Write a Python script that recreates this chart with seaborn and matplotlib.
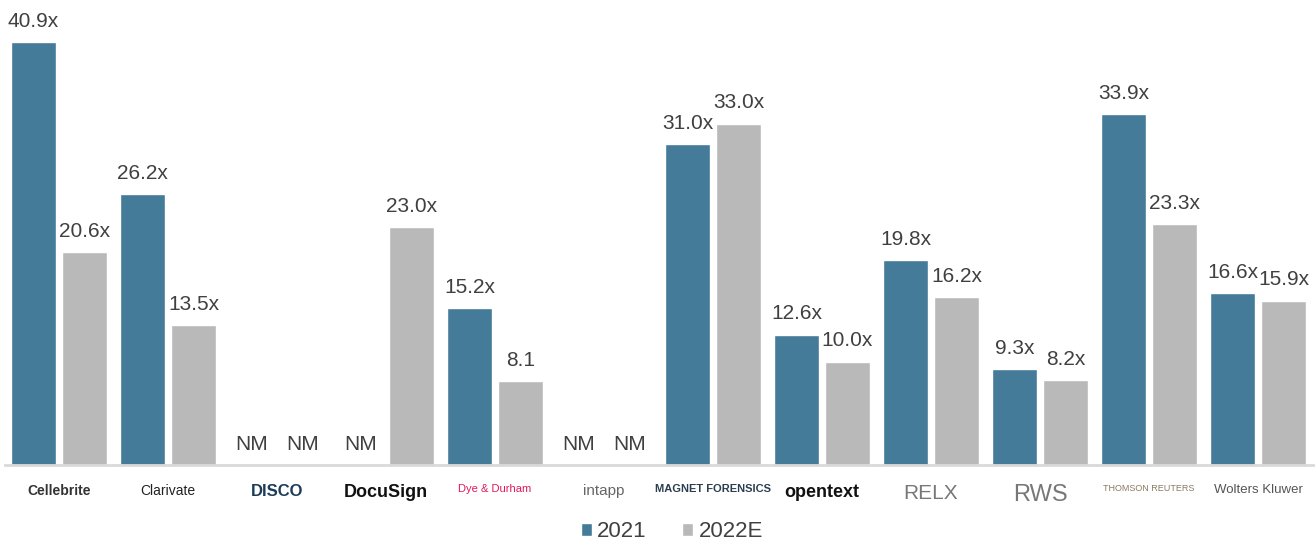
import numpy as np
import pandas as pd
import matplotlib
matplotlib.use("Agg")
import matplotlib.pyplot as plt
import seaborn as sns

companies = ["Cellebrite", "Clarivate", "DISCO", "DocuSign", "Dye & Durham", "intapp",
             "MAGNET FORENSICS", "opentext", "RELX", "RWS", "THOMSON REUTERS", "Wolters Kluwer"]
vals_2021 = [40.9, 26.2, np.nan, np.nan, 15.2, np.nan, 31.0, 12.6, 19.8, 9.3, 33.9, 16.6]
vals_2022 = [20.6, 13.5, np.nan, 23.0, 8.1, np.nan, 33.0, 10.0, 16.2, 8.2, 23.3, 15.9]
labels_2021 = ["40.9x", "26.2x", "NM", "NM", "15.2x", "NM", "31.0x", "12.6x", "19.8x", "9.3x", "33.9x", "16.6x"]
labels_2022 = ["20.6x", "13.5x", "NM", "23.0x", "8.1", "NM", "33.0x", "10.0x", "16.2x", "8.2x", "23.3x", "15.9x"]
series = ["2021", "2022E"]

tick_colors = ["#333333", "#222222", "#1d3c5a", "#111111", "#e0185e", "#666666",
               "#2b3e50", "#111111", "#777777", "#777777", "#8a7a60", "#555555"]
tick_weights = ["bold", "normal", "bold", "bold", "normal", "normal",
                "bold", "bold", "normal", "normal", "normal", "normal"]
tick_sizes = [10, 10, 12, 13, 8, 11, 8, 13, 15, 17, 6.5, 9.5]

df = pd.DataFrame({
    "company": companies * 2,
    "series": [series[0]] * len(companies) + [series[1]] * len(companies),
    "value": vals_2021 + vals_2022,
})

sns.set_style("white")
plt.rcParams["font.family"] = ["Liberation Sans", "DejaVu Sans"]

fig = plt.figure(figsize=(13.15, 5.46), dpi=100)
ax = fig.add_axes([4.5 / 1315, 81 / 546, 1308 / 1315, 455 / 546])

colors = {"2021": "#437b99", "2022E": "#b9b9b9"}
sns.barplot(data=df, x="company", y="value", hue="series", palette=colors,
            width=0.935, gap=0.118, ax=ax, legend=True, saturation=1)

ax.set_ylim(0, 44)
ax.set_xlim(-0.5, len(companies) - 0.5)
ax.set_xlabel("")
ax.set_ylabel("")
ax.set_yticks([])
for s in ["top", "right", "left"]:
    ax.spines[s].set_visible(False)
ax.spines["bottom"].set_color("#d9d9d9")
ax.spines["bottom"].set_linewidth(2)

ax.tick_params(axis="x", length=0, pad=14)
ax.set_xticks(range(len(companies)))
ax.set_xticklabels(companies)
for lab, c, w, s in zip(ax.get_xticklabels(), tick_colors, tick_weights, tick_sizes):
    lab.set_color(c)
    lab.set_fontweight(w)
    lab.set_fontsize(s)

for vals, labs, off in [(vals_2021, labels_2021, -0.234), (vals_2022, labels_2022, 0.234)]:
    for i, (v, l) in enumerate(zip(vals, labs)):
        y = 0 if np.isnan(v) else v
        ax.annotate(l, (i + off, y), xytext=(0, 11), textcoords="offset points",
                    ha="center", va="baseline", fontsize=15, color="#404040")

handles, lbls = ax.get_legend_handles_labels()
ax.get_legend().remove()
fig.legend(handles, lbls, loc="lower center", bbox_to_anchor=(0.511, -0.03), ncol=2,
           frameon=False, fontsize=16, handlelength=0.5, handleheight=0.5,
           handletextpad=0.25, columnspacing=1.6, labelcolor="#404040")

fig.savefig("out.png", dpi=100)
